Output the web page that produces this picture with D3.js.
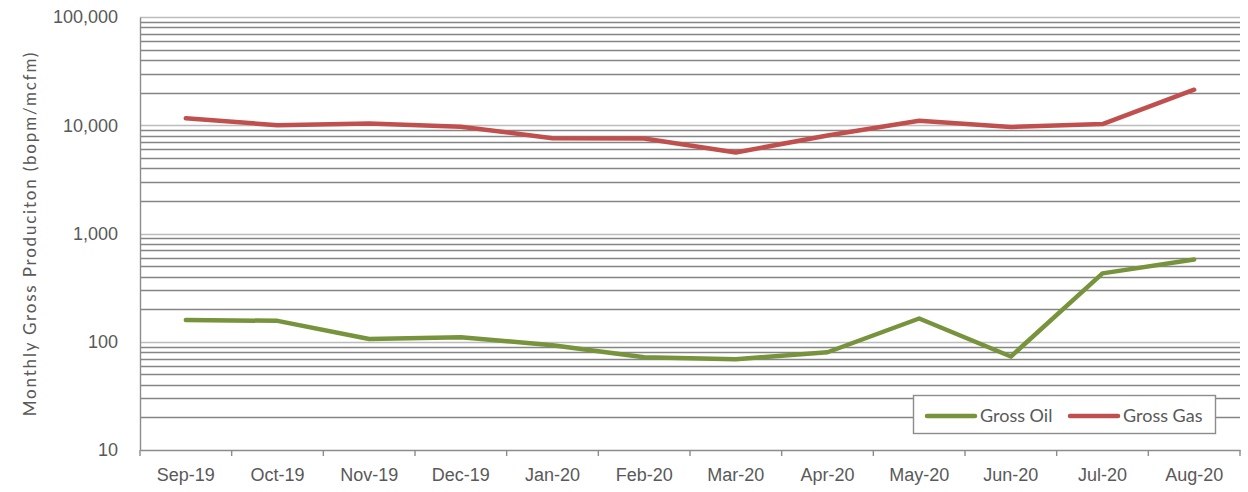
<!DOCTYPE html>
<html>
<head>
	<meta charset="utf-8">
	<script src="https://d3js.org/d3.v7.min.js"></script>
	<style type="text/css">
		body { margin: 0; background: #fff; }
		svg { display: block; font-family: "Lato", "Liberation Sans", sans-serif; }
		.tick-label { fill: #595959; font-size: 18px; }
		.axis-title { fill: #595959; font-size: 17px; letter-spacing: 1.8px; }
		.legend-text { fill: #595959; font-size: 18px; }
	</style>
</head>
<body>
<div id="chart"></div>
<script>
	// chart data
	var months = ["Sep-19", "Oct-19", "Nov-19", "Dec-19", "Jan-20", "Feb-20", "Mar-20", "Apr-20", "May-20", "Jun-20", "Jul-20", "Aug-20"];
	var grossOil = [159, 156, 106, 110, 93, 72, 69, 80, 164, 73, 428, 574];
	var grossGas = [11600, 10000, 10400, 9700, 7600, 7550, 5600, 8050, 11000, 9650, 10250, 21300];
	var yTicks = [10, 100, 1000, 10000, 100000];
	var yTitle = "Monthly Gross Produciton (bopm/mcfm)";

	var width = 1248, height = 492;
	var margin = {top: 17, left: 140, right: 8, bottom: 42};
	var plotW = 1240 - margin.left;
	var plotH = 450 - margin.top;

	var svg = d3.select("#chart").append("svg")
		.attr("width", width)
		.attr("height", height);

	var x = d3.scaleBand()
		.domain(months)
		.range([margin.left, margin.left + plotW]);

	var y = d3.scaleLog()
		.domain([10, 100000])
		.range([margin.top + plotH, margin.top]);

	// minor gridlines 2..9 of each decade
	var minor = [];
	for (var d = 10; d < 100000; d *= 10) {
		for (var m = 2; m <= 9; m++) minor.push(d * m);
	}

	svg.append("g").selectAll("line")
		.data(minor)
		.enter().append("line")
		.attr("x1", margin.left)
		.attr("x2", margin.left + plotW)
		.attr("y1", function(d){ return Math.round(y(d)) + 0.5; })
		.attr("y2", function(d){ return Math.round(y(d)) + 0.5; })
		.attr("stroke", "#858585")
		.attr("stroke-width", 1.4);

	svg.append("g").selectAll("line")
		.data(yTicks.slice(1))
		.enter().append("line")
		.attr("x1", margin.left)
		.attr("x2", margin.left + plotW)
		.attr("y1", function(d){ return Math.round(y(d)) + 0.5; })
		.attr("y2", function(d){ return Math.round(y(d)) + 0.5; })
		.attr("stroke", "#bdbdbd")
		.attr("stroke-width", 1.6);

	// y axis
	var yAxis = d3.axisLeft(y)
		.tickValues(yTicks)
		.tickFormat(d3.format(","))
		.tickSize(0)
		.tickPadding(22);

	var gy = svg.append("g")
		.attr("transform", "translate(" + margin.left + ",0)")
		.call(yAxis);
	gy.select(".domain").attr("stroke", "#8c8c8c").attr("stroke-width", 1.4);
	gy.selectAll("text").attr("class", "tick-label");

	// x axis
	var xAxis = d3.axisBottom(x).tickSize(0).tickPadding(18);
	var gx = svg.append("g")
		.attr("transform", "translate(0," + (margin.top + plotH) + ")")
		.call(xAxis);
	gx.select(".domain").attr("stroke", "#8c8c8c").attr("stroke-width", 1.4);
	gx.selectAll("text").attr("class", "tick-label");

	// category boundary ticks
	var bounds = months.map(function(m){ return x(m); }).concat([margin.left + plotW]);
	gx.selectAll(".bound")
		.data(bounds)
		.enter().append("line")
		.attr("class", "bound")
		.attr("x1", function(d){ return d; })
		.attr("x2", function(d){ return d; })
		.attr("y1", 0)
		.attr("y2", 6)
		.attr("stroke", "#8c8c8c")
		.attr("stroke-width", 1.4);

	// axis title
	svg.append("text")
		.attr("class", "axis-title")
		.attr("transform", "translate(36," + (margin.top + plotH / 2) + ") rotate(-90)")
		.attr("text-anchor", "middle")
		.text(yTitle);

	var line = d3.line()
		.x(function(d, i){ return x(months[i]) + x.bandwidth() / 2; })
		.y(function(d){ return y(d); });

	var series = [
		{name: "Gross Oil", values: grossOil, color: "#77933C"},
		{name: "Gross Gas", values: grossGas, color: "#C0504D"}
	];

	svg.selectAll(".series")
		.data(series)
		.enter().append("path")
		.attr("class", "series")
		.attr("d", function(s){ return line(s.values); })
		.attr("fill", "none")
		.attr("stroke", function(s){ return s.color; })
		.attr("stroke-width", 4.5)
		.attr("stroke-linejoin", "round")
		.attr("stroke-linecap", "round");

	// legend
	var legend = svg.append("g");
	legend.append("rect")
		.attr("x", 913.5)
		.attr("y", 395.5)
		.attr("width", 302)
		.attr("height", 38)
		.attr("fill", "#fff")
		.attr("stroke", "#8c8c8c")
		.attr("stroke-width", 1.4);

	var items = legend.selectAll(".item")
		.data(series)
		.enter().append("g")
		.attr("class", "item")
		.attr("transform", function(d, i){ return "translate(" + (927 + i * 143) + ",416)"; });
	items.append("line")
		.attr("x1", 0).attr("x2", 48)
		.attr("stroke", function(d){ return d.color; })
		.attr("stroke-width", 4.5)
		.attr("stroke-linecap", "round");
	items.append("text")
		.attr("class", "legend-text")
		.attr("x", 53)
		.attr("dy", "0.35em")
		.text(function(d){ return d.name; });
</script>
</body>
</html>
